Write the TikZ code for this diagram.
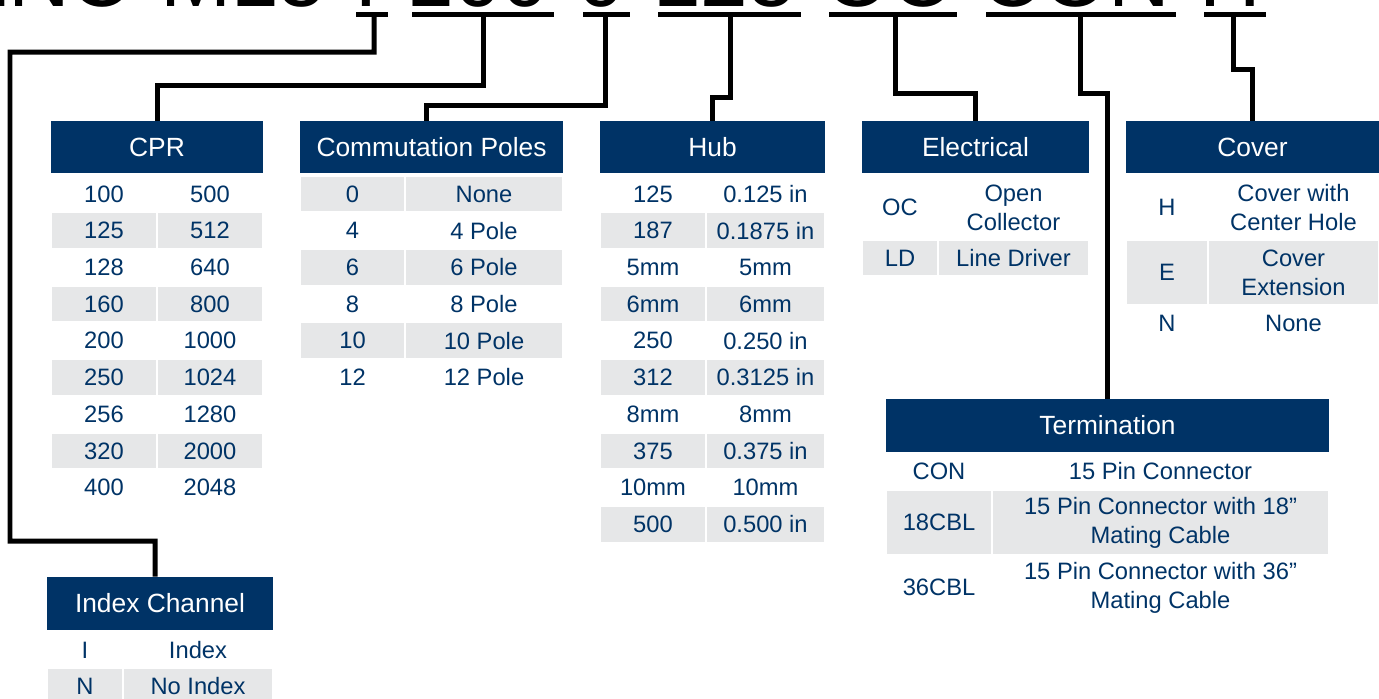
\documentclass[tikz,border=0pt]{standalone}
\usepackage{fontspec}
\setmainfont{Liberation Sans}
\usepackage{tikz}
\definecolor{encnavy}{RGB}{0,51,102}
\definecolor{encgray}{RGB}{230,231,232}
\tikzstyle{header} = [rectangle, fill=encnavy, text=white, inner sep=0pt, font=\fontsize{15}{18}\selectfont]
\tikzstyle{cell} = [rectangle, draw=white, line width=1.1pt, inner sep=0pt, text=encnavy, align=center, font=\fontsize{13.5}{16.5}\selectfont]
\tikzstyle{link} = [line width=0.1cm, black]

\begin{document}
\begin{tikzpicture}[x=0.02cm, y=-0.02cm]
\useasboundingbox (0,0) rectangle (1379,698);
\clip (0,0) rectangle (1379,698);

% Part number (cut at the top)
\node (title) [anchor=base west, inner sep=0pt, font=\fontsize{48.6}{50}\selectfont] at (-49,6) {ENC-M15-I-100-0-125-OC-CON-H};
\draw[link] (356,14.5) -- (388,14.5);
\draw[link] (412,14.5) -- (554,14.5);
\draw[link] (583,14.5) -- (630,14.5);
\draw[link] (658,14.5) -- (801,14.5);
\draw[link] (829,14.5) -- (957,14.5);
\draw[link] (986,14.5) -- (1176,14.5);
\draw[link] (1204,14.5) -- (1266,14.5);
\coordinate (uIdx) at (374,14.5);
\coordinate (uCpr) at (483,14.5);
\coordinate (uPole) at (605,14.5);
\coordinate (uHub) at (730,14.5);
\coordinate (uElec) at (895,14.5);
\coordinate (uTerm) at (1080,14.5);
\coordinate (uCover) at (1233,14.5);

% Headers
\node (hcpr) [header, minimum width=4.24cm, minimum height=1.04cm] at (157,147) {CPR};
\node (hpole) [header, minimum width=5.26cm, minimum height=1.04cm] at (431.5,147) {Commutation Poles};
\node (hhub) [header, minimum width=4.5cm, minimum height=1.04cm] at (712.5,147) {Hub};
\node (helec) [header, minimum width=4.54cm, minimum height=1.04cm] at (975.5,147) {Electrical};
\node (hcover) [header, minimum width=5.06cm, minimum height=1.04cm] at (1252.5,147) {Cover};
\node (hterm) [header, minimum width=8.86cm, minimum height=1.06cm] at (1107.5,425.5) {Termination};
\node (hidx) [header, minimum width=4.52cm, minimum height=1.06cm] at (160,603.5) {Index Channel};

% CPR
\foreach \a/\b [count=\i] in {100/500,125/512,128/640,160/800,200/1000,250/1024,256/1280,320/2000,400/2048}{
  \ifodd\i \def\bg{white}\else\def\bg{encgray}\fi
  \pgfmathsetmacro\ry{194+36.7*(\i-1)}
  \node (cpra\i) [cell, fill=\bg, minimum width=2.12cm, minimum height=0.734cm] at (104,\ry) {\a};
  \node (cprb\i) [cell, fill=\bg, minimum width=2.12cm, minimum height=0.734cm] at (210,\ry) {\b};
}

% Commutation poles
\foreach \a/\b [count=\i] in {0/None,4/4 Pole,6/6 Pole,8/8 Pole,10/10 Pole,12/12 Pole}{
  \ifodd\i \def\bg{encgray}\else\def\bg{white}\fi
  \pgfmathsetmacro\ry{194+36.7*(\i-1)}
  \node (polea\i) [cell, fill=\bg, minimum width=2.1cm, minimum height=0.734cm] at (352.5,\ry) {\a};
  \node (poleb\i) [cell, fill=\bg, minimum width=3.16cm, minimum height=0.734cm] at (484,\ry) {\b};
}

% Hub
\foreach \a/\b [count=\i] in {125/0.125 in,187/0.1875 in,5mm/5mm,6mm/6mm,250/0.250 in,312/0.3125 in,8mm/8mm,375/0.375 in,10mm/10mm,500/0.500 in}{
  \ifodd\i \def\bg{white}\else\def\bg{encgray}\fi
  \pgfmathsetmacro\ry{194+36.7*(\i-1)}
  \node (huba\i) [cell, fill=\bg, minimum width=2.12cm, minimum height=0.734cm] at (653,\ry) {\a};
  \node (hubb\i) [cell, fill=\bg, minimum width=2.38cm, minimum height=0.734cm] at (765.5,\ry) {\b};
}

% Electrical
\node (eleca1) [cell, minimum width=1.52cm, minimum height=1.3cm] at (900,207.5) {OC};
\node (elecb1) [cell, minimum width=3.02cm, minimum height=1.3cm] at (1013.5,207.5) {Open\\Collector};
\node (eleca2) [cell, fill=encgray, minimum width=1.52cm, minimum height=0.72cm] at (900,258) {LD};
\node (elecb2) [cell, fill=encgray, minimum width=3.02cm, minimum height=0.72cm] at (1013.5,258) {Line Driver};

% Cover
\node (covera1) [cell, minimum width=1.64cm, minimum height=1.3cm] at (1167,207.5) {H};
\node (coverb1) [cell, minimum width=3.42cm, minimum height=1.3cm] at (1293.5,207.5) {Cover with\\Center Hole};
\node (covera2) [cell, fill=encgray, minimum width=1.64cm, minimum height=1.3cm] at (1167,272.5) {E};
\node (coverb2) [cell, fill=encgray, minimum width=3.42cm, minimum height=1.3cm] at (1293.5,272.5) {Cover\\Extension};
\node (covera3) [cell, minimum width=1.64cm, minimum height=0.72cm] at (1167,323) {N};
\node (coverb3) [cell, minimum width=3.42cm, minimum height=0.72cm] at (1293.5,323) {None};

% Termination
\node (terma1) [cell, minimum width=2.12cm, minimum height=0.74cm] at (939,471.5) {CON};
\node (termb1) [cell, minimum width=6.74cm, minimum height=0.74cm] at (1160.5,471.5) {15 Pin Connector};
\node (terma2) [cell, fill=encgray, minimum width=2.12cm, minimum height=1.3cm] at (939,522.5) {18CBL};
\node (termb2) [cell, fill=encgray, minimum width=6.74cm, minimum height=1.3cm] at (1160.5,522.5) {15 Pin Connector with 18”\\Mating Cable};
\node (terma3) [cell, minimum width=2.12cm, minimum height=1.3cm] at (939,587.5) {36CBL};
\node (termb3) [cell, minimum width=6.74cm, minimum height=1.3cm] at (1160.5,587.5) {15 Pin Connector with 36”\\Mating Cable};

% Index channel
\node (idxa1) [cell, minimum width=1.52cm, minimum height=0.72cm] at (85,650) {I};
\node (idxb1) [cell, minimum width=3.0cm, minimum height=0.72cm] at (198,650) {Index};
\node (idxa2) [cell, fill=encgray, minimum width=1.52cm, minimum height=0.72cm] at (85,686) {N};
\node (idxb2) [cell, fill=encgray, minimum width=3.0cm, minimum height=0.72cm] at (198,686) {No Index};

% Leader lines
\draw[link] (uIdx) |- (10,52) |- (155,541) -- ([xshift=-0.1cm]hidx.north);
\draw[link] (uCpr) -- ++(0,71) -| (hcpr.north);
\draw[link] (uPole) -- ++(0,91) -| ([xshift=-0.11cm]hpole.north);
\draw[link] (uHub) -- ++(0,83) -| (hhub.north);
\draw[link] (uElec) -- ++(0,79) -| (helec.north);
\draw[link] (uTerm) -- ++(0,79) -| (hterm.north);
\draw[link] (uCover) -- ++(0,55) -| (hcover.north);
\end{tikzpicture}
\end{document}
